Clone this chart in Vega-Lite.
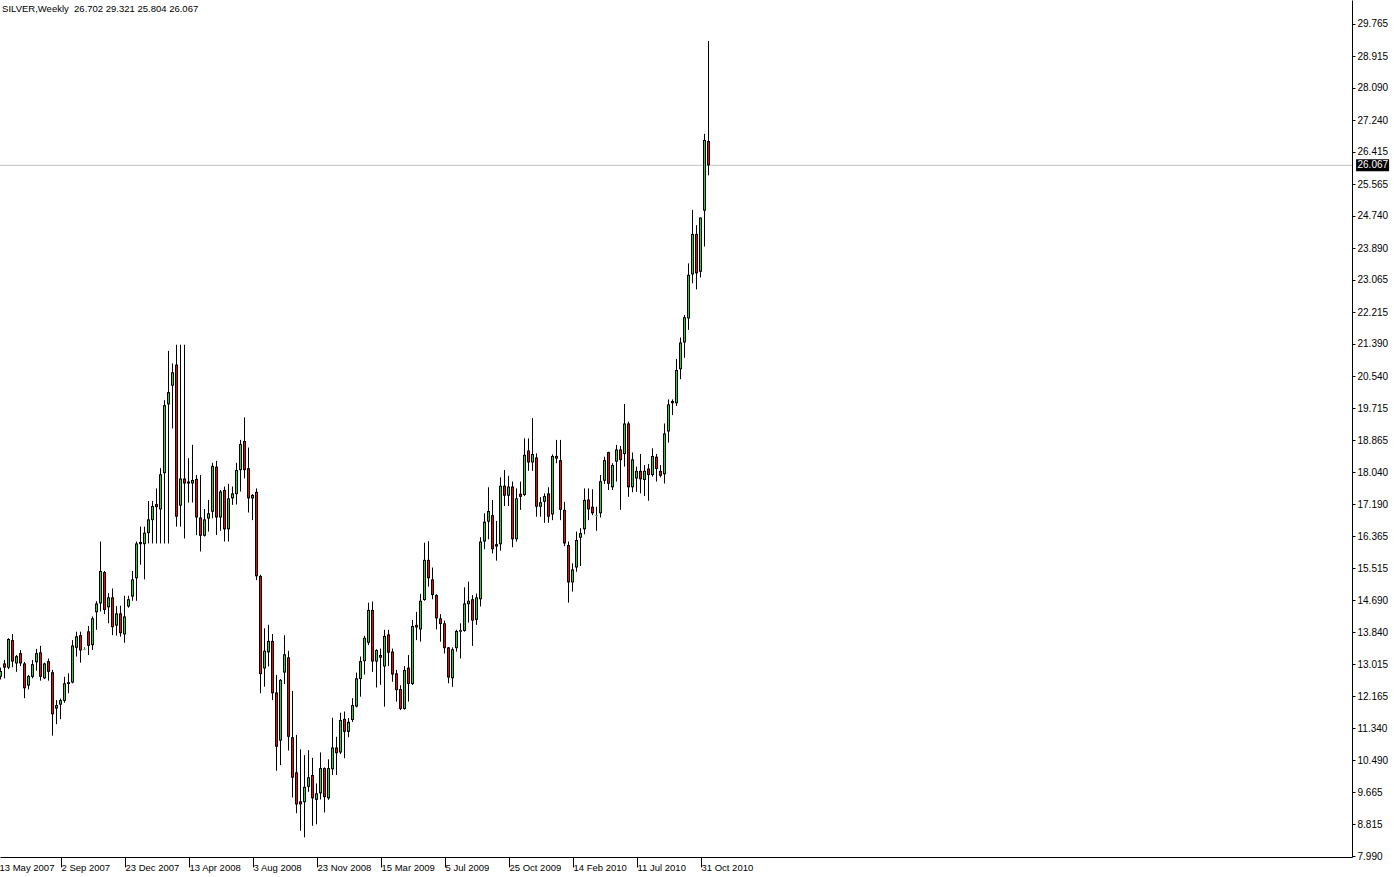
{
"$schema":"https://vega.github.io/schema/vega-lite/v6.json",
"width":1352,"height":857,
"autosize":{"type":"none"},
"padding":{"left":0,"top":0,"right":42,"bottom":20},
"background":"white",
"config":{"view":{"stroke":null},"font":"Liberation Sans","scale":{"continuousPadding":0}},
"data":{"values":[
{"i":0,"o":12.68,"h":12.92,"l":12.61,"c":12.83},
{"i":1,"o":13.03,"h":13.12,"l":12.64,"c":12.92},
{"i":2,"o":12.92,"h":13.69,"l":12.88,"c":13.67},
{"i":3,"o":13.64,"h":13.80,"l":12.93,"c":13.08},
{"i":4,"o":13.03,"h":13.25,"l":12.81,"c":13.22},
{"i":5,"o":13.30,"h":13.38,"l":12.96,"c":13.03},
{"i":6,"o":13.03,"h":13.07,"l":12.12,"c":12.38},
{"i":7,"o":12.45,"h":12.73,"l":12.35,"c":12.70},
{"i":8,"o":12.68,"h":13.12,"l":12.64,"c":13.01},
{"i":9,"o":13.06,"h":13.41,"l":12.84,"c":13.30},
{"i":10,"o":13.32,"h":13.49,"l":12.58,"c":12.68},
{"i":11,"o":12.64,"h":13.05,"l":12.62,"c":13.03},
{"i":12,"o":13.09,"h":13.16,"l":12.58,"c":12.81},
{"i":13,"o":12.80,"h":12.86,"l":11.14,"c":11.70},
{"i":14,"o":11.85,"h":12.07,"l":11.44,"c":11.94},
{"i":15,"o":11.95,"h":12.11,"l":11.57,"c":12.07},
{"i":16,"o":12.05,"h":12.68,"l":12.00,"c":12.51},
{"i":17,"o":12.49,"h":12.77,"l":12.25,"c":12.54},
{"i":18,"o":12.53,"h":13.64,"l":12.51,"c":13.50},
{"i":19,"o":13.44,"h":13.86,"l":13.21,"c":13.74},
{"i":20,"o":13.77,"h":13.86,"l":13.05,"c":13.37},
{"i":21,"o":13.40,"h":13.45,"l":13.38,"c":13.41},
{"i":22,"o":13.87,"h":14.01,"l":13.25,"c":13.49},
{"i":23,"o":13.51,"h":14.26,"l":13.38,"c":14.21},
{"i":24,"o":14.37,"h":14.66,"l":13.91,"c":14.60},
{"i":25,"o":14.60,"h":16.22,"l":14.39,"c":15.45},
{"i":26,"o":15.42,"h":15.45,"l":14.32,"c":14.43},
{"i":27,"o":14.50,"h":14.87,"l":14.08,"c":14.76},
{"i":28,"o":14.76,"h":14.99,"l":13.77,"c":13.98},
{"i":29,"o":14.02,"h":14.53,"l":13.76,"c":14.34},
{"i":30,"o":14.34,"h":14.54,"l":13.73,"c":13.82},
{"i":31,"o":13.79,"h":14.80,"l":13.57,"c":14.26},
{"i":32,"o":14.52,"h":14.80,"l":14.49,"c":14.71},
{"i":33,"o":14.78,"h":15.45,"l":14.67,"c":15.23},
{"i":34,"o":15.26,"h":16.22,"l":14.67,"c":16.17},
{"i":35,"o":16.21,"h":16.61,"l":15.61,"c":16.15},
{"i":36,"o":16.15,"h":16.61,"l":15.23,"c":16.45},
{"i":37,"o":16.44,"h":17.28,"l":16.17,"c":16.80},
{"i":38,"o":16.78,"h":17.28,"l":16.17,"c":17.15},
{"i":39,"o":17.20,"h":17.61,"l":16.17,"c":17.12},
{"i":40,"o":17.06,"h":18.14,"l":16.17,"c":17.98},
{"i":41,"o":18.01,"h":19.92,"l":16.17,"c":19.79},
{"i":42,"o":19.81,"h":21.21,"l":16.17,"c":20.13},
{"i":43,"o":20.30,"h":20.88,"l":19.18,"c":20.65},
{"i":44,"o":20.85,"h":21.37,"l":16.61,"c":16.87},
{"i":45,"o":17.16,"h":21.37,"l":16.61,"c":17.87},
{"i":46,"o":17.87,"h":21.37,"l":16.30,"c":17.74},
{"i":47,"o":17.74,"h":18.40,"l":17.24,"c":17.79},
{"i":48,"o":17.74,"h":18.75,"l":17.24,"c":17.83},
{"i":49,"o":17.86,"h":17.96,"l":16.39,"c":16.85},
{"i":50,"o":16.85,"h":17.96,"l":15.96,"c":16.37},
{"i":51,"o":16.37,"h":17.07,"l":16.35,"c":16.80},
{"i":52,"o":16.82,"h":17.31,"l":16.48,"c":16.96},
{"i":53,"o":17.00,"h":18.28,"l":16.83,"c":18.20},
{"i":54,"o":18.18,"h":18.33,"l":16.39,"c":16.85},
{"i":55,"o":16.85,"h":17.57,"l":16.50,"c":17.53},
{"i":56,"o":17.57,"h":17.66,"l":16.22,"c":16.54},
{"i":57,"o":16.54,"h":17.73,"l":16.22,"c":17.35},
{"i":58,"o":17.35,"h":17.66,"l":17.18,"c":17.48},
{"i":59,"o":17.46,"h":18.28,"l":17.19,"c":18.09},
{"i":60,"o":18.09,"h":18.88,"l":17.53,"c":18.77},
{"i":61,"o":18.85,"h":19.47,"l":17.87,"c":18.09},
{"i":62,"o":18.14,"h":18.68,"l":16.98,"c":17.35},
{"i":63,"o":17.35,"h":17.46,"l":16.78,"c":17.44},
{"i":64,"o":17.52,"h":17.61,"l":15.21,"c":15.31},
{"i":65,"o":15.32,"h":15.35,"l":12.25,"c":12.75},
{"i":66,"o":12.90,"h":13.95,"l":12.42,"c":13.36},
{"i":67,"o":13.32,"h":14.04,"l":12.95,"c":13.62},
{"i":68,"o":13.62,"h":13.80,"l":12.07,"c":12.25},
{"i":69,"o":12.27,"h":12.73,"l":10.22,"c":10.85},
{"i":70,"o":11.01,"h":12.62,"l":10.37,"c":12.60},
{"i":71,"o":12.79,"h":13.77,"l":12.49,"c":13.27},
{"i":72,"o":13.19,"h":13.36,"l":10.75,"c":11.11},
{"i":73,"o":11.10,"h":12.31,"l":9.52,"c":10.04},
{"i":74,"o":10.18,"h":11.16,"l":9.11,"c":9.34},
{"i":75,"o":9.42,"h":10.78,"l":8.65,"c":9.34},
{"i":76,"o":9.40,"h":10.63,"l":8.48,"c":9.80},
{"i":77,"o":9.80,"h":10.76,"l":9.67,"c":10.05},
{"i":78,"o":10.11,"h":10.56,"l":8.78,"c":9.50},
{"i":79,"o":9.46,"h":9.89,"l":8.82,"c":9.63},
{"i":80,"o":9.63,"h":10.70,"l":9.47,"c":10.29},
{"i":81,"o":10.29,"h":10.31,"l":9.13,"c":9.53},
{"i":82,"o":9.50,"h":10.52,"l":9.46,"c":10.29},
{"i":83,"o":10.26,"h":11.61,"l":10.11,"c":10.83},
{"i":84,"o":10.83,"h":11.11,"l":10.11,"c":10.68},
{"i":85,"o":10.70,"h":11.74,"l":10.66,"c":11.55},
{"i":86,"o":11.58,"h":11.77,"l":10.55,"c":11.24},
{"i":87,"o":11.24,"h":11.60,"l":11.10,"c":11.50},
{"i":88,"o":11.55,"h":12.12,"l":11.50,"c":11.94},
{"i":89,"o":11.90,"h":12.79,"l":11.88,"c":12.64},
{"i":90,"o":12.62,"h":13.21,"l":12.16,"c":13.09},
{"i":91,"o":13.09,"h":13.75,"l":12.74,"c":13.70},
{"i":92,"o":13.57,"h":14.62,"l":13.51,"c":14.43},
{"i":93,"o":14.43,"h":14.65,"l":12.81,"c":13.08},
{"i":94,"o":13.08,"h":13.40,"l":12.40,"c":13.38},
{"i":95,"o":13.25,"h":13.42,"l":12.47,"c":13.18},
{"i":96,"o":12.95,"h":13.91,"l":11.90,"c":13.75},
{"i":97,"o":13.79,"h":13.91,"l":12.96,"c":13.31},
{"i":98,"o":13.34,"h":13.42,"l":12.55,"c":12.74},
{"i":99,"o":12.77,"h":12.86,"l":12.03,"c":12.33},
{"i":100,"o":12.36,"h":12.46,"l":11.81,"c":11.84},
{"i":101,"o":11.84,"h":12.96,"l":11.82,"c":12.86},
{"i":102,"o":12.92,"h":13.25,"l":12.03,"c":12.49},
{"i":103,"o":12.49,"h":14.17,"l":12.47,"c":14.01},
{"i":104,"o":14.04,"h":14.38,"l":13.64,"c":13.97},
{"i":105,"o":13.92,"h":14.85,"l":13.60,"c":14.67},
{"i":106,"o":14.69,"h":16.19,"l":14.67,"c":15.74},
{"i":107,"o":15.74,"h":16.23,"l":15.04,"c":15.26},
{"i":108,"o":15.23,"h":15.54,"l":14.71,"c":14.82},
{"i":109,"o":14.82,"h":14.84,"l":13.92,"c":14.21},
{"i":110,"o":14.21,"h":14.32,"l":13.60,"c":14.06},
{"i":111,"o":14.08,"h":14.15,"l":13.29,"c":13.43},
{"i":112,"o":13.45,"h":13.46,"l":12.51,"c":12.66},
{"i":113,"o":12.64,"h":13.45,"l":12.42,"c":13.40},
{"i":114,"o":13.43,"h":13.91,"l":13.34,"c":13.88},
{"i":115,"o":13.86,"h":14.08,"l":13.16,"c":13.90},
{"i":116,"o":13.88,"h":15.02,"l":13.86,"c":14.60},
{"i":117,"o":14.58,"h":15.17,"l":14.10,"c":14.67},
{"i":118,"o":14.71,"h":14.82,"l":13.49,"c":14.15},
{"i":119,"o":14.17,"h":14.86,"l":14.04,"c":14.76},
{"i":120,"o":14.71,"h":16.33,"l":14.52,"c":16.22},
{"i":121,"o":16.22,"h":16.96,"l":16.02,"c":16.74},
{"i":122,"o":16.74,"h":17.64,"l":16.28,"c":17.02},
{"i":123,"o":16.91,"h":17.31,"l":15.91,"c":16.02},
{"i":124,"o":16.09,"h":16.76,"l":15.72,"c":16.15},
{"i":125,"o":16.15,"h":17.90,"l":15.98,"c":17.68},
{"i":126,"o":17.68,"h":18.09,"l":17.15,"c":17.42},
{"i":127,"o":17.42,"h":17.94,"l":17.15,"c":17.66},
{"i":128,"o":17.66,"h":17.79,"l":16.07,"c":16.28},
{"i":129,"o":16.28,"h":17.61,"l":16.22,"c":17.35},
{"i":130,"o":17.47,"h":17.79,"l":17.05,"c":17.39},
{"i":131,"o":17.44,"h":18.92,"l":17.41,"c":18.49},
{"i":132,"o":18.60,"h":18.92,"l":18.07,"c":18.29},
{"i":133,"o":18.29,"h":19.45,"l":18.07,"c":18.51},
{"i":134,"o":18.42,"h":18.53,"l":16.87,"c":17.13},
{"i":135,"o":17.13,"h":17.38,"l":16.87,"c":17.25},
{"i":136,"o":17.26,"h":17.48,"l":16.71,"c":17.41},
{"i":137,"o":17.48,"h":17.64,"l":16.71,"c":16.87},
{"i":138,"o":16.93,"h":18.50,"l":16.78,"c":18.46},
{"i":139,"o":18.46,"h":18.88,"l":18.27,"c":18.39},
{"i":140,"o":18.35,"h":18.88,"l":16.78,"c":17.05},
{"i":141,"o":17.05,"h":17.26,"l":16.10,"c":16.17},
{"i":142,"o":16.13,"h":16.22,"l":14.62,"c":15.15},
{"i":143,"o":15.15,"h":15.65,"l":14.91,"c":15.49},
{"i":144,"o":15.54,"h":16.48,"l":15.43,"c":16.26},
{"i":145,"o":16.32,"h":16.57,"l":15.58,"c":16.44},
{"i":146,"o":16.54,"h":17.61,"l":16.41,"c":17.31},
{"i":147,"o":17.32,"h":17.61,"l":16.78,"c":17.06},
{"i":148,"o":17.13,"h":17.59,"l":16.91,"c":16.96},
{"i":149,"o":16.89,"h":17.13,"l":16.50,"c":16.90},
{"i":150,"o":16.96,"h":17.96,"l":16.85,"c":17.80},
{"i":151,"o":17.81,"h":18.44,"l":17.73,"c":18.35},
{"i":152,"o":18.56,"h":18.57,"l":17.57,"c":17.73},
{"i":153,"o":17.64,"h":18.27,"l":17.57,"c":18.22},
{"i":154,"o":18.31,"h":18.75,"l":17.79,"c":18.63},
{"i":155,"o":18.63,"h":18.72,"l":17.05,"c":18.35},
{"i":156,"o":18.51,"h":19.82,"l":18.18,"c":19.31},
{"i":157,"o":19.31,"h":19.36,"l":17.39,"c":17.64},
{"i":158,"o":17.64,"h":18.55,"l":17.51,"c":18.37},
{"i":159,"o":17.87,"h":18.18,"l":17.52,"c":18.07},
{"i":160,"o":18.07,"h":18.51,"l":17.48,"c":17.85},
{"i":161,"o":17.83,"h":18.22,"l":17.41,"c":18.07},
{"i":162,"o":18.13,"h":18.25,"l":17.29,"c":17.96},
{"i":163,"o":17.96,"h":18.66,"l":17.92,"c":18.46},
{"i":164,"o":18.44,"h":18.51,"l":17.79,"c":18.12},
{"i":165,"o":18.07,"h":18.22,"l":17.90,"c":17.94},
{"i":166,"o":17.98,"h":19.31,"l":17.74,"c":19.05},
{"i":167,"o":19.10,"h":19.94,"l":18.81,"c":19.81},
{"i":168,"o":19.90,"h":19.94,"l":19.53,"c":19.84},
{"i":169,"o":19.84,"h":21.00,"l":19.77,"c":20.71},
{"i":170,"o":20.73,"h":21.56,"l":20.47,"c":21.43},
{"i":171,"o":21.43,"h":22.15,"l":21.03,"c":22.09},
{"i":172,"o":22.06,"h":23.50,"l":21.76,"c":23.20},
{"i":173,"o":23.21,"h":24.90,"l":22.98,"c":24.27},
{"i":174,"o":24.27,"h":24.50,"l":22.82,"c":23.24},
{"i":175,"o":23.28,"h":24.70,"l":23.13,"c":24.70},
{"i":176,"o":24.88,"h":26.89,"l":23.94,"c":26.73},
{"i":177,"o":26.702,"h":29.321,"l":25.804,"c":26.067}
]},
"layer":[
{"data":{"values":[{"p":26.067,"label":"26.067"}]},
 "mark":{"type":"rule","color":"#c0c0c0","strokeWidth":1},
 "encoding":{"y":{"field":"p","type":"quantitative","scale":{"domain":[7.964,30.393],"nice":false,"zero":false,"padding":0}}}},
{"mark":{"type":"rule","color":"black","strokeWidth":1},
 "encoding":{
  "x":{"field":"i","type":"quantitative","scale":{"domain":[-0.125,337.875],"nice":false,"zero":false,"padding":0},
   "axis":{"values":[0,16,32,48,64,80,96,112,128,144,160,176],"tickCount":100,
    "labelExpr":"['13 May 2007','2 Sep 2007','23 Dec 2007','13 Apr 2008','3 Aug 2008','23 Nov 2008','15 Mar 2009','5 Jul 2009','25 Oct 2009','14 Feb 2010','11 Jul 2010','31 Oct 2010'][round(datum.value/16)]",
    "tickOffset":-3.5,
    "labelOffset":{"condition":{"test":"datum.value == 0","value":2},"value":0},
    "labelAlign":"left","labelDx":1.5,"labelPadding":-5,"labelBaseline":"top","tickSize":10,"tickColor":"black","domainColor":"black","labelColor":"black","labelFont":"Liberation Sans","labelFontSize":9.5,"labelOverlap":false,"labelFlush":false,"labelBound":false,"grid":false,"title":null}},
  "y":{"field":"l","type":"quantitative","scale":{"domain":[7.964,30.393],"nice":false,"zero":false,"padding":0},
   "axis":{"orient":"right","values":[7.990,8.815,9.665,10.490,11.340,12.165,13.015,13.840,14.690,15.515,16.365,17.190,18.040,18.865,19.715,20.540,21.390,22.215,23.065,23.890,24.740,25.565,26.415,27.240,28.090,28.915,29.765],"tickCount":100,
    "format":".3f","tickSize":3,"tickColor":"black","domainColor":"black","labelColor":"black","labelFont":"Liberation Sans","labelFontSize":10,"labelPadding":2,"labelOverlap":false,"labelFlush":false,"grid":false,"title":null}},
  "y2":{"field":"h"}}},
{"mark":{"type":"bar","color":"black","size":3},
 "encoding":{
  "x":{"field":"i","type":"quantitative"},
  "y":{"field":"o","type":"quantitative"},
  "y2":{"field":"c"}}},
{"transform":[{"filter":"datum.c >= datum.o"}],
 "mark":{"type":"bar","color":"#32cd32","size":1,"yOffset":-1,"y2Offset":1},
 "encoding":{
  "x":{"field":"i","type":"quantitative"},
  "y":{"field":"o","type":"quantitative"},
  "y2":{"field":"c"}}},
{"transform":[{"filter":"datum.c < datum.o"}],
 "mark":{"type":"bar","color":"#ff0000","size":1,"yOffset":1,"y2Offset":-1},
 "encoding":{
  "x":{"field":"i","type":"quantitative"},
  "y":{"field":"o","type":"quantitative"},
  "y2":{"field":"c"}}},
{"data":{"values":[{"p":26.067,"label":"26.067"}]},
 "mark":{"type":"bar","color":"black","orient":"horizontal","size":12},
 "encoding":{
  "x":{"datum":338.9,"type":"quantitative"},
  "x2":{"datum":347.15},
  "y":{"field":"p","type":"quantitative"}}},
{"data":{"values":[{"p":26.067,"label":"26.067"}]},
 "mark":{"type":"text","color":"white","align":"left","baseline":"middle","fontSize":10,"font":"Liberation Sans","dx":1},
 "encoding":{
  "x":{"datum":339.0,"type":"quantitative"},
  "y":{"field":"p","type":"quantitative"},
  "text":{"field":"label"}}},
{"data":{"values":[{"t":"SILVER,Weekly \u00a026.702 29.321 25.804 26.067"}]},
 "mark":{"type":"text","color":"black","align":"left","baseline":"alphabetic","fontSize":9.5,"font":"Liberation Sans"},
 "encoding":{
  "x":{"datum":0.4,"type":"quantitative"},
  "y":{"datum":30.09,"type":"quantitative"},
  "text":{"field":"t"}}}
]
}
